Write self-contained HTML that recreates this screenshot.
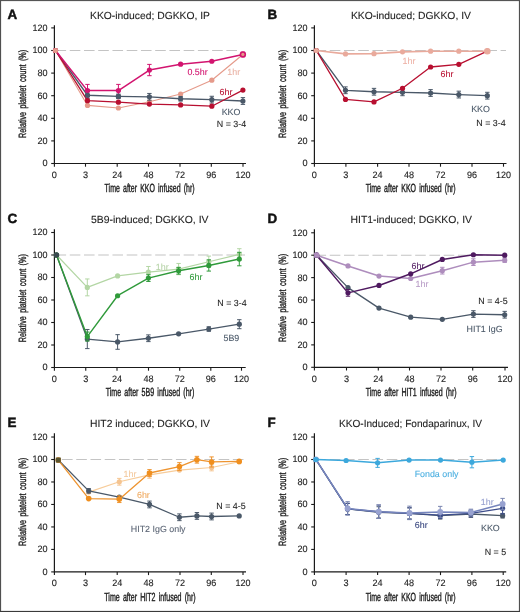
<!DOCTYPE html>
<html><head><meta charset="utf-8"><style>
html,body{margin:0;padding:0;background:#fff;}
body{width:520px;height:612px;overflow:hidden;}
svg{display:block;filter:blur(0.25px);font-family:"Liberation Sans", sans-serif;font-variant-ligatures:none;font-feature-settings:"liga" 0;text-rendering:geometricPrecision;}
</style></head><body>
<svg width="520" height="612" viewBox="0 0 520 612">
<rect x="0" y="0" width="520" height="612" fill="#fff"/>
<text x="7.60" y="18.60" font-size="13.4" fill="#111" text-anchor="start" font-weight="bold" stroke="#111" stroke-width="0.45">A</text>
<text x="150.00" y="19.20" font-size="10.3" fill="#222" text-anchor="middle" font-weight="normal" textLength="120" lengthAdjust="spacingAndGlyphs" stroke="#222" stroke-width="0.1">KKO-induced; DGKKO, IP</text>
<line x1="55.50" y1="50.50" x2="238.00" y2="50.50" stroke="#c4c4c4" stroke-width="1.1" stroke-dasharray="10.6,3.64"/>
<path d="M54.40 25.20 V163.50 H246.00" fill="none" stroke="#1a1a1a" stroke-width="1.2"/>
<line x1="51.20" y1="163.50" x2="54.40" y2="163.50" stroke="#1a1a1a" stroke-width="1.1"/>
<text x="47.50" y="166.40" font-size="9.4" fill="#222" text-anchor="end" font-weight="normal" textLength="5.1" lengthAdjust="spacingAndGlyphs" stroke="#222" stroke-width="0.12">0</text>
<line x1="51.20" y1="140.90" x2="54.40" y2="140.90" stroke="#1a1a1a" stroke-width="1.1"/>
<text x="47.50" y="143.80" font-size="9.4" fill="#222" text-anchor="end" font-weight="normal" textLength="10.1" lengthAdjust="spacingAndGlyphs" stroke="#222" stroke-width="0.12">20</text>
<line x1="51.20" y1="118.30" x2="54.40" y2="118.30" stroke="#1a1a1a" stroke-width="1.1"/>
<text x="47.50" y="121.20" font-size="9.4" fill="#222" text-anchor="end" font-weight="normal" textLength="10.1" lengthAdjust="spacingAndGlyphs" stroke="#222" stroke-width="0.12">40</text>
<line x1="51.20" y1="95.70" x2="54.40" y2="95.70" stroke="#1a1a1a" stroke-width="1.1"/>
<text x="47.50" y="98.60" font-size="9.4" fill="#222" text-anchor="end" font-weight="normal" textLength="10.1" lengthAdjust="spacingAndGlyphs" stroke="#222" stroke-width="0.12">60</text>
<line x1="51.20" y1="73.10" x2="54.40" y2="73.10" stroke="#1a1a1a" stroke-width="1.1"/>
<text x="47.50" y="76.00" font-size="9.4" fill="#222" text-anchor="end" font-weight="normal" textLength="10.1" lengthAdjust="spacingAndGlyphs" stroke="#222" stroke-width="0.12">80</text>
<line x1="51.20" y1="50.50" x2="54.40" y2="50.50" stroke="#1a1a1a" stroke-width="1.1"/>
<text x="47.50" y="53.40" font-size="9.4" fill="#222" text-anchor="end" font-weight="normal" textLength="15" lengthAdjust="spacingAndGlyphs" stroke="#222" stroke-width="0.12">100</text>
<line x1="51.20" y1="27.90" x2="54.40" y2="27.90" stroke="#1a1a1a" stroke-width="1.1"/>
<text x="47.50" y="30.80" font-size="9.4" fill="#222" text-anchor="end" font-weight="normal" textLength="15" lengthAdjust="spacingAndGlyphs" stroke="#222" stroke-width="0.12">120</text>
<line x1="54.40" y1="163.50" x2="54.40" y2="166.70" stroke="#1a1a1a" stroke-width="1.1"/>
<text x="54.40" y="178.00" font-size="9.4" fill="#222" text-anchor="middle" font-weight="normal" textLength="5.1" lengthAdjust="spacingAndGlyphs" stroke="#222" stroke-width="0.12">0</text>
<line x1="85.50" y1="163.50" x2="85.50" y2="166.70" stroke="#1a1a1a" stroke-width="1.1"/>
<text x="85.50" y="178.00" font-size="9.4" fill="#222" text-anchor="middle" font-weight="normal" textLength="5.1" lengthAdjust="spacingAndGlyphs" stroke="#222" stroke-width="0.12">3</text>
<line x1="117.20" y1="163.50" x2="117.20" y2="166.70" stroke="#1a1a1a" stroke-width="1.1"/>
<text x="117.20" y="178.00" font-size="9.4" fill="#222" text-anchor="middle" font-weight="normal" textLength="10.1" lengthAdjust="spacingAndGlyphs" stroke="#222" stroke-width="0.12">24</text>
<line x1="148.50" y1="163.50" x2="148.50" y2="166.70" stroke="#1a1a1a" stroke-width="1.1"/>
<text x="148.50" y="178.00" font-size="9.4" fill="#222" text-anchor="middle" font-weight="normal" textLength="10.1" lengthAdjust="spacingAndGlyphs" stroke="#222" stroke-width="0.12">48</text>
<line x1="180.00" y1="163.50" x2="180.00" y2="166.70" stroke="#1a1a1a" stroke-width="1.1"/>
<text x="180.00" y="178.00" font-size="9.4" fill="#222" text-anchor="middle" font-weight="normal" textLength="10.1" lengthAdjust="spacingAndGlyphs" stroke="#222" stroke-width="0.12">72</text>
<line x1="211.30" y1="163.50" x2="211.30" y2="166.70" stroke="#1a1a1a" stroke-width="1.1"/>
<text x="211.30" y="178.00" font-size="9.4" fill="#222" text-anchor="middle" font-weight="normal" textLength="10.1" lengthAdjust="spacingAndGlyphs" stroke="#222" stroke-width="0.12">96</text>
<line x1="243.00" y1="163.50" x2="243.00" y2="166.70" stroke="#1a1a1a" stroke-width="1.1"/>
<text x="243.00" y="178.00" font-size="9.4" fill="#222" text-anchor="middle" font-weight="normal" textLength="15" lengthAdjust="spacingAndGlyphs" stroke="#222" stroke-width="0.12">120</text>
<text x="149.60" y="192.30" font-size="11.8" fill="#1a1a1a" text-anchor="middle" font-weight="normal" textLength="90" lengthAdjust="spacingAndGlyphs" stroke="#1a1a1a" stroke-width="0.4" word-spacing="2">Time after KKO infused (hr)</text>
<text transform="translate(26.10,93.90) rotate(-90)" x="0" y="0" font-size="10.5" fill="#1a1a1a" text-anchor="middle" textLength="88" lengthAdjust="spacingAndGlyphs" stroke="#1a1a1a" stroke-width="0.35" word-spacing="2">Relative platelet count (%)</text>
<path d="M55.50 50.50 L87.50 105.42 L118.40 108.02 L149.40 101.80 L180.60 94.01 L211.80 80.22 L242.90 54.46" fill="none" stroke="#e59a8a" stroke-width="1.1" stroke-linejoin="round"/>
<circle cx="55.50" cy="50.50" r="2.6" fill="#e59a8a"/>
<circle cx="87.50" cy="105.42" r="2.6" fill="#e59a8a"/>
<circle cx="118.40" cy="108.02" r="2.6" fill="#e59a8a"/>
<circle cx="149.40" cy="101.80" r="2.6" fill="#e59a8a"/>
<circle cx="180.60" cy="94.01" r="2.6" fill="#e59a8a"/>
<circle cx="211.80" cy="80.22" r="2.6" fill="#e59a8a"/>
<circle cx="242.90" cy="54.46" r="2.6" fill="#e59a8a"/>
<path d="M55.50 50.50 L87.50 95.25 L118.40 96.38 L149.40 96.83 L180.60 98.75 L211.80 99.66 L242.90 101.01" fill="none" stroke="#4a5868" stroke-width="1.3" stroke-linejoin="round"/>
<path d="M87.50 91.86 V98.64 M85.30 91.86 H89.70 M85.30 98.64 H89.70" stroke="#4a5868" stroke-width="1" fill="none"/>
<path d="M118.40 94.12 V98.64 M116.20 94.12 H120.60 M116.20 98.64 H120.60" stroke="#4a5868" stroke-width="1" fill="none"/>
<path d="M149.40 93.44 V100.22 M147.20 93.44 H151.60 M147.20 100.22 H151.60" stroke="#4a5868" stroke-width="1" fill="none"/>
<path d="M180.60 96.49 V101.01 M178.40 96.49 H182.80 M178.40 101.01 H182.80" stroke="#4a5868" stroke-width="1" fill="none"/>
<path d="M211.80 96.27 V103.05 M209.60 96.27 H214.00 M209.60 103.05 H214.00" stroke="#4a5868" stroke-width="1" fill="none"/>
<path d="M242.90 97.62 V104.40 M240.70 97.62 H245.10 M240.70 104.40 H245.10" stroke="#4a5868" stroke-width="1" fill="none"/>
<circle cx="55.50" cy="50.50" r="2.6" fill="#4a5868"/>
<circle cx="87.50" cy="95.25" r="2.6" fill="#4a5868"/>
<circle cx="118.40" cy="96.38" r="2.6" fill="#4a5868"/>
<circle cx="149.40" cy="96.83" r="2.6" fill="#4a5868"/>
<circle cx="180.60" cy="98.75" r="2.6" fill="#4a5868"/>
<circle cx="211.80" cy="99.66" r="2.6" fill="#4a5868"/>
<circle cx="242.90" cy="101.01" r="2.6" fill="#4a5868"/>
<path d="M55.50 50.50 L87.50 100.67 L118.40 102.14 L149.40 104.06 L180.60 104.97 L211.80 106.21 L242.90 90.05" fill="none" stroke="#b80f30" stroke-width="1.3" stroke-linejoin="round"/>
<circle cx="55.50" cy="50.50" r="2.6" fill="#b80f30"/>
<circle cx="87.50" cy="100.67" r="2.6" fill="#b80f30"/>
<circle cx="118.40" cy="102.14" r="2.6" fill="#b80f30"/>
<circle cx="149.40" cy="104.06" r="2.6" fill="#b80f30"/>
<circle cx="180.60" cy="104.97" r="2.6" fill="#b80f30"/>
<circle cx="211.80" cy="106.21" r="2.6" fill="#b80f30"/>
<circle cx="242.90" cy="90.05" r="2.6" fill="#b80f30"/>
<path d="M55.50 50.50 L87.50 90.62 L118.40 90.62 L149.40 70.05 L180.60 64.17 L211.80 61.24 L242.90 54.46" fill="none" stroke="#d2146f" stroke-width="1.5" stroke-linejoin="round"/>
<path d="M87.50 84.40 V96.83 M85.30 84.40 H89.70 M85.30 96.83 H89.70" stroke="#d2146f" stroke-width="1" fill="none"/>
<path d="M118.40 84.40 V96.83 M116.20 84.40 H120.60 M116.20 96.83 H120.60" stroke="#d2146f" stroke-width="1" fill="none"/>
<path d="M149.40 64.40 V75.70 M147.20 64.40 H151.60 M147.20 75.70 H151.60" stroke="#d2146f" stroke-width="1" fill="none"/>
<path d="M242.90 52.20 V56.72 M240.70 52.20 H245.10 M240.70 56.72 H245.10" stroke="#d2146f" stroke-width="1" fill="none"/>
<circle cx="55.50" cy="50.50" r="2.6" fill="#d2146f"/>
<circle cx="87.50" cy="90.62" r="2.6" fill="#d2146f"/>
<circle cx="118.40" cy="90.62" r="2.6" fill="#d2146f"/>
<circle cx="149.40" cy="70.05" r="2.6" fill="#d2146f"/>
<circle cx="180.60" cy="64.17" r="2.6" fill="#d2146f"/>
<circle cx="211.80" cy="61.24" r="2.6" fill="#d2146f"/>
<circle cx="242.90" cy="54.46" r="3.2" fill="#d2146f"/>
<circle cx="55.50" cy="50.50" r="2.6" fill="#e59a8a"/>
<circle cx="242.90" cy="54.46" r="1.6" fill="#e59a8a"/>
<circle cx="87.50" cy="95.25" r="2.6" fill="#4a5868"/>
<circle cx="118.40" cy="96.38" r="2.6" fill="#4a5868"/>
<text x="197.50" y="74.70" font-size="8.9" fill="#d2146f" text-anchor="middle" font-weight="normal" stroke="#d2146f" stroke-width="0.08">0.5hr</text>
<text x="233.70" y="74.70" font-size="8.9" fill="#e9b2a4" text-anchor="middle" font-weight="normal" stroke="#e9b2a4" stroke-width="0.08">1hr</text>
<text x="226.00" y="95.30" font-size="8.9" fill="#b80f30" text-anchor="middle" font-weight="normal" stroke="#b80f30" stroke-width="0.08">6hr</text>
<text x="231.00" y="115.00" font-size="8.9" fill="#4a5868" text-anchor="middle" font-weight="normal" stroke="#4a5868" stroke-width="0.08">KKO</text>
<text x="231.50" y="126.50" font-size="8.9" fill="#222" text-anchor="middle" font-weight="normal" stroke="#222" stroke-width="0.08">N = 3-4</text>
<text x="267.60" y="18.60" font-size="13.4" fill="#111" text-anchor="start" font-weight="bold" stroke="#111" stroke-width="0.45">B</text>
<text x="410.90" y="19.20" font-size="10.3" fill="#222" text-anchor="middle" font-weight="normal" textLength="120" lengthAdjust="spacingAndGlyphs" stroke="#222" stroke-width="0.1">KKO-induced; DGKKO, IV</text>
<line x1="315.50" y1="50.50" x2="506.00" y2="50.50" stroke="#c4c4c4" stroke-width="1.1" stroke-dasharray="10.6,3.64"/>
<path d="M314.40 25.20 V163.50 H506.50" fill="none" stroke="#1a1a1a" stroke-width="1.2"/>
<line x1="311.20" y1="163.50" x2="314.40" y2="163.50" stroke="#1a1a1a" stroke-width="1.1"/>
<text x="307.50" y="166.40" font-size="9.4" fill="#222" text-anchor="end" font-weight="normal" textLength="5.1" lengthAdjust="spacingAndGlyphs" stroke="#222" stroke-width="0.12">0</text>
<line x1="311.20" y1="140.90" x2="314.40" y2="140.90" stroke="#1a1a1a" stroke-width="1.1"/>
<text x="307.50" y="143.80" font-size="9.4" fill="#222" text-anchor="end" font-weight="normal" textLength="10.1" lengthAdjust="spacingAndGlyphs" stroke="#222" stroke-width="0.12">20</text>
<line x1="311.20" y1="118.30" x2="314.40" y2="118.30" stroke="#1a1a1a" stroke-width="1.1"/>
<text x="307.50" y="121.20" font-size="9.4" fill="#222" text-anchor="end" font-weight="normal" textLength="10.1" lengthAdjust="spacingAndGlyphs" stroke="#222" stroke-width="0.12">40</text>
<line x1="311.20" y1="95.70" x2="314.40" y2="95.70" stroke="#1a1a1a" stroke-width="1.1"/>
<text x="307.50" y="98.60" font-size="9.4" fill="#222" text-anchor="end" font-weight="normal" textLength="10.1" lengthAdjust="spacingAndGlyphs" stroke="#222" stroke-width="0.12">60</text>
<line x1="311.20" y1="73.10" x2="314.40" y2="73.10" stroke="#1a1a1a" stroke-width="1.1"/>
<text x="307.50" y="76.00" font-size="9.4" fill="#222" text-anchor="end" font-weight="normal" textLength="10.1" lengthAdjust="spacingAndGlyphs" stroke="#222" stroke-width="0.12">80</text>
<line x1="311.20" y1="50.50" x2="314.40" y2="50.50" stroke="#1a1a1a" stroke-width="1.1"/>
<text x="307.50" y="53.40" font-size="9.4" fill="#222" text-anchor="end" font-weight="normal" textLength="15" lengthAdjust="spacingAndGlyphs" stroke="#222" stroke-width="0.12">100</text>
<line x1="311.20" y1="27.90" x2="314.40" y2="27.90" stroke="#1a1a1a" stroke-width="1.1"/>
<text x="307.50" y="30.80" font-size="9.4" fill="#222" text-anchor="end" font-weight="normal" textLength="15" lengthAdjust="spacingAndGlyphs" stroke="#222" stroke-width="0.12">120</text>
<line x1="314.40" y1="163.50" x2="314.40" y2="166.70" stroke="#1a1a1a" stroke-width="1.1"/>
<text x="314.40" y="178.00" font-size="9.4" fill="#222" text-anchor="middle" font-weight="normal" textLength="5.1" lengthAdjust="spacingAndGlyphs" stroke="#222" stroke-width="0.12">0</text>
<line x1="345.90" y1="163.50" x2="345.90" y2="166.70" stroke="#1a1a1a" stroke-width="1.1"/>
<text x="345.90" y="178.00" font-size="9.4" fill="#222" text-anchor="middle" font-weight="normal" textLength="5.1" lengthAdjust="spacingAndGlyphs" stroke="#222" stroke-width="0.12">3</text>
<line x1="377.60" y1="163.50" x2="377.60" y2="166.70" stroke="#1a1a1a" stroke-width="1.1"/>
<text x="377.60" y="178.00" font-size="9.4" fill="#222" text-anchor="middle" font-weight="normal" textLength="10.1" lengthAdjust="spacingAndGlyphs" stroke="#222" stroke-width="0.12">24</text>
<line x1="409.00" y1="163.50" x2="409.00" y2="166.70" stroke="#1a1a1a" stroke-width="1.1"/>
<text x="409.00" y="178.00" font-size="9.4" fill="#222" text-anchor="middle" font-weight="normal" textLength="10.1" lengthAdjust="spacingAndGlyphs" stroke="#222" stroke-width="0.12">48</text>
<line x1="440.50" y1="163.50" x2="440.50" y2="166.70" stroke="#1a1a1a" stroke-width="1.1"/>
<text x="440.50" y="178.00" font-size="9.4" fill="#222" text-anchor="middle" font-weight="normal" textLength="10.1" lengthAdjust="spacingAndGlyphs" stroke="#222" stroke-width="0.12">72</text>
<line x1="472.00" y1="163.50" x2="472.00" y2="166.70" stroke="#1a1a1a" stroke-width="1.1"/>
<text x="472.00" y="178.00" font-size="9.4" fill="#222" text-anchor="middle" font-weight="normal" textLength="10.1" lengthAdjust="spacingAndGlyphs" stroke="#222" stroke-width="0.12">96</text>
<line x1="503.50" y1="163.50" x2="503.50" y2="166.70" stroke="#1a1a1a" stroke-width="1.1"/>
<text x="503.50" y="178.00" font-size="9.4" fill="#222" text-anchor="middle" font-weight="normal" textLength="15" lengthAdjust="spacingAndGlyphs" stroke="#222" stroke-width="0.12">120</text>
<text x="410.70" y="192.30" font-size="11.8" fill="#1a1a1a" text-anchor="middle" font-weight="normal" textLength="90" lengthAdjust="spacingAndGlyphs" stroke="#1a1a1a" stroke-width="0.4" word-spacing="2">Time after KKO infused (hr)</text>
<text transform="translate(286.10,93.90) rotate(-90)" x="0" y="0" font-size="10.5" fill="#1a1a1a" text-anchor="middle" textLength="88" lengthAdjust="spacingAndGlyphs" stroke="#1a1a1a" stroke-width="0.35" word-spacing="2">Relative platelet count (%)</text>
<path d="M316.30 50.50 L345.50 90.28 L374.00 91.75 L402.50 92.31 L430.60 92.99 L458.80 94.57 L487.30 95.70" fill="none" stroke="#4a5868" stroke-width="1.3" stroke-linejoin="round"/>
<path d="M345.50 86.89 V93.67 M343.30 86.89 H347.70 M343.30 93.67 H347.70" stroke="#4a5868" stroke-width="1" fill="none"/>
<path d="M374.00 88.36 V95.14 M371.80 88.36 H376.20 M371.80 95.14 H376.20" stroke="#4a5868" stroke-width="1" fill="none"/>
<path d="M402.50 88.92 V95.70 M400.30 88.92 H404.70 M400.30 95.70 H404.70" stroke="#4a5868" stroke-width="1" fill="none"/>
<path d="M430.60 89.60 V96.38 M428.40 89.60 H432.80 M428.40 96.38 H432.80" stroke="#4a5868" stroke-width="1" fill="none"/>
<path d="M458.80 91.18 V97.96 M456.60 91.18 H461.00 M456.60 97.96 H461.00" stroke="#4a5868" stroke-width="1" fill="none"/>
<path d="M487.30 92.31 V99.09 M485.10 92.31 H489.50 M485.10 99.09 H489.50" stroke="#4a5868" stroke-width="1" fill="none"/>
<circle cx="316.30" cy="50.50" r="2.6" fill="#4a5868"/>
<circle cx="345.50" cy="90.28" r="2.6" fill="#4a5868"/>
<circle cx="374.00" cy="91.75" r="2.6" fill="#4a5868"/>
<circle cx="402.50" cy="92.31" r="2.6" fill="#4a5868"/>
<circle cx="430.60" cy="92.99" r="2.6" fill="#4a5868"/>
<circle cx="458.80" cy="94.57" r="2.6" fill="#4a5868"/>
<circle cx="487.30" cy="95.70" r="2.6" fill="#4a5868"/>
<path d="M316.30 50.50 L345.50 99.43 L374.00 101.92 L402.50 88.24 L430.60 67.00 L458.80 64.29 L487.30 51.18" fill="none" stroke="#b80f30" stroke-width="1.3" stroke-linejoin="round"/>
<circle cx="316.30" cy="50.50" r="2.6" fill="#b80f30"/>
<circle cx="345.50" cy="99.43" r="2.6" fill="#b80f30"/>
<circle cx="374.00" cy="101.92" r="2.6" fill="#b80f30"/>
<circle cx="402.50" cy="88.24" r="2.6" fill="#b80f30"/>
<circle cx="430.60" cy="67.00" r="2.6" fill="#b80f30"/>
<circle cx="458.80" cy="64.29" r="2.6" fill="#b80f30"/>
<circle cx="487.30" cy="51.18" r="2.6" fill="#b80f30"/>
<path d="M316.30 50.50 L345.50 53.89 L374.00 53.66 L402.50 51.86 L430.60 51.18 L458.80 51.18 L487.30 51.18" fill="none" stroke="#e9aa9c" stroke-width="1.6" stroke-linejoin="round"/>
<circle cx="316.30" cy="50.50" r="2.6" fill="#e9aa9c"/>
<circle cx="345.50" cy="53.89" r="2.6" fill="#e9aa9c"/>
<circle cx="374.00" cy="53.66" r="2.6" fill="#e9aa9c"/>
<circle cx="402.50" cy="51.86" r="2.6" fill="#e9aa9c"/>
<circle cx="430.60" cy="51.18" r="2.6" fill="#e9aa9c"/>
<circle cx="458.80" cy="51.18" r="2.6" fill="#e9aa9c"/>
<circle cx="487.30" cy="51.18" r="3.3" fill="#e9aa9c"/>
<text x="409.00" y="64.30" font-size="8.9" fill="#eeb2a6" text-anchor="middle" font-weight="normal" stroke="#eeb2a6" stroke-width="0.08">1hr</text>
<text x="447.00" y="77.00" font-size="8.9" fill="#b80f30" text-anchor="middle" font-weight="normal" stroke="#b80f30" stroke-width="0.08">6hr</text>
<text x="480.50" y="111.70" font-size="8.9" fill="#4a5868" text-anchor="middle" font-weight="normal" stroke="#4a5868" stroke-width="0.08">KKO</text>
<text x="491.00" y="126.00" font-size="8.9" fill="#222" text-anchor="middle" font-weight="normal" stroke="#222" stroke-width="0.08">N = 3-4</text>
<text x="7.60" y="222.60" font-size="13.4" fill="#111" text-anchor="start" font-weight="bold" stroke="#111" stroke-width="0.45">C</text>
<text x="149.70" y="223.20" font-size="10.3" fill="#222" text-anchor="middle" font-weight="normal" textLength="117.6" lengthAdjust="spacingAndGlyphs" stroke="#222" stroke-width="0.1">5B9-induced; DGKKO, IV</text>
<line x1="55.50" y1="255.00" x2="245.00" y2="255.00" stroke="#c4c4c4" stroke-width="1.1" stroke-dasharray="10.6,3.64"/>
<path d="M54.40 229.20 V367.50 H245.70" fill="none" stroke="#1a1a1a" stroke-width="1.2"/>
<line x1="51.20" y1="367.50" x2="54.40" y2="367.50" stroke="#1a1a1a" stroke-width="1.1"/>
<text x="47.50" y="370.40" font-size="9.4" fill="#222" text-anchor="end" font-weight="normal" textLength="5.1" lengthAdjust="spacingAndGlyphs" stroke="#222" stroke-width="0.12">0</text>
<line x1="51.20" y1="345.00" x2="54.40" y2="345.00" stroke="#1a1a1a" stroke-width="1.1"/>
<text x="47.50" y="347.90" font-size="9.4" fill="#222" text-anchor="end" font-weight="normal" textLength="10.1" lengthAdjust="spacingAndGlyphs" stroke="#222" stroke-width="0.12">20</text>
<line x1="51.20" y1="322.50" x2="54.40" y2="322.50" stroke="#1a1a1a" stroke-width="1.1"/>
<text x="47.50" y="325.40" font-size="9.4" fill="#222" text-anchor="end" font-weight="normal" textLength="10.1" lengthAdjust="spacingAndGlyphs" stroke="#222" stroke-width="0.12">40</text>
<line x1="51.20" y1="300.00" x2="54.40" y2="300.00" stroke="#1a1a1a" stroke-width="1.1"/>
<text x="47.50" y="302.90" font-size="9.4" fill="#222" text-anchor="end" font-weight="normal" textLength="10.1" lengthAdjust="spacingAndGlyphs" stroke="#222" stroke-width="0.12">60</text>
<line x1="51.20" y1="277.50" x2="54.40" y2="277.50" stroke="#1a1a1a" stroke-width="1.1"/>
<text x="47.50" y="280.40" font-size="9.4" fill="#222" text-anchor="end" font-weight="normal" textLength="10.1" lengthAdjust="spacingAndGlyphs" stroke="#222" stroke-width="0.12">80</text>
<line x1="51.20" y1="255.00" x2="54.40" y2="255.00" stroke="#1a1a1a" stroke-width="1.1"/>
<text x="47.50" y="257.90" font-size="9.4" fill="#222" text-anchor="end" font-weight="normal" textLength="15" lengthAdjust="spacingAndGlyphs" stroke="#222" stroke-width="0.12">100</text>
<line x1="51.20" y1="232.50" x2="54.40" y2="232.50" stroke="#1a1a1a" stroke-width="1.1"/>
<text x="47.50" y="235.40" font-size="9.4" fill="#222" text-anchor="end" font-weight="normal" textLength="15" lengthAdjust="spacingAndGlyphs" stroke="#222" stroke-width="0.12">120</text>
<line x1="54.40" y1="367.50" x2="54.40" y2="370.70" stroke="#1a1a1a" stroke-width="1.1"/>
<text x="54.40" y="382.00" font-size="9.4" fill="#222" text-anchor="middle" font-weight="normal" textLength="5.1" lengthAdjust="spacingAndGlyphs" stroke="#222" stroke-width="0.12">0</text>
<line x1="85.75" y1="367.50" x2="85.75" y2="370.70" stroke="#1a1a1a" stroke-width="1.1"/>
<text x="85.75" y="382.00" font-size="9.4" fill="#222" text-anchor="middle" font-weight="normal" textLength="5.1" lengthAdjust="spacingAndGlyphs" stroke="#222" stroke-width="0.12">3</text>
<line x1="117.00" y1="367.50" x2="117.00" y2="370.70" stroke="#1a1a1a" stroke-width="1.1"/>
<text x="117.00" y="382.00" font-size="9.4" fill="#222" text-anchor="middle" font-weight="normal" textLength="10.1" lengthAdjust="spacingAndGlyphs" stroke="#222" stroke-width="0.12">24</text>
<line x1="148.50" y1="367.50" x2="148.50" y2="370.70" stroke="#1a1a1a" stroke-width="1.1"/>
<text x="148.50" y="382.00" font-size="9.4" fill="#222" text-anchor="middle" font-weight="normal" textLength="10.1" lengthAdjust="spacingAndGlyphs" stroke="#222" stroke-width="0.12">48</text>
<line x1="179.70" y1="367.50" x2="179.70" y2="370.70" stroke="#1a1a1a" stroke-width="1.1"/>
<text x="179.70" y="382.00" font-size="9.4" fill="#222" text-anchor="middle" font-weight="normal" textLength="10.1" lengthAdjust="spacingAndGlyphs" stroke="#222" stroke-width="0.12">72</text>
<line x1="210.80" y1="367.50" x2="210.80" y2="370.70" stroke="#1a1a1a" stroke-width="1.1"/>
<text x="210.80" y="382.00" font-size="9.4" fill="#222" text-anchor="middle" font-weight="normal" textLength="10.1" lengthAdjust="spacingAndGlyphs" stroke="#222" stroke-width="0.12">96</text>
<line x1="241.50" y1="367.50" x2="241.50" y2="370.70" stroke="#1a1a1a" stroke-width="1.1"/>
<text x="241.50" y="382.00" font-size="9.4" fill="#222" text-anchor="middle" font-weight="normal" textLength="15" lengthAdjust="spacingAndGlyphs" stroke="#222" stroke-width="0.12">120</text>
<text x="150.00" y="396.30" font-size="11.8" fill="#1a1a1a" text-anchor="middle" font-weight="normal" textLength="88.6" lengthAdjust="spacingAndGlyphs" stroke="#1a1a1a" stroke-width="0.4" word-spacing="2">Time after 5B9 infused (hr)</text>
<text transform="translate(26.10,298.20) rotate(-90)" x="0" y="0" font-size="10.5" fill="#1a1a1a" text-anchor="middle" textLength="88" lengthAdjust="spacingAndGlyphs" stroke="#1a1a1a" stroke-width="0.35" word-spacing="2">Relative platelet count (%)</text>
<path d="M56.50 255.00 L87.30 287.40 L117.60 275.93 L148.40 272.10 L178.60 269.06 L208.80 261.75 L239.30 254.32" fill="none" stroke="#b3d6a4" stroke-width="1.2" stroke-linejoin="round"/>
<path d="M87.30 278.96 V295.84 M85.10 278.96 H89.50 M85.10 295.84 H89.50" stroke="#b3d6a4" stroke-width="1" fill="none"/>
<path d="M148.40 266.48 V277.73 M146.20 266.48 H150.60 M146.20 277.73 H150.60" stroke="#b3d6a4" stroke-width="1" fill="none"/>
<path d="M178.60 263.44 V274.69 M176.40 263.44 H180.80 M176.40 274.69 H180.80" stroke="#b3d6a4" stroke-width="1" fill="none"/>
<path d="M208.80 256.12 V267.38 M206.60 256.12 H211.00 M206.60 267.38 H211.00" stroke="#b3d6a4" stroke-width="1" fill="none"/>
<path d="M239.30 248.70 V259.95 M237.10 248.70 H241.50 M237.10 259.95 H241.50" stroke="#b3d6a4" stroke-width="1" fill="none"/>
<circle cx="56.50" cy="255.00" r="2.6" fill="#b3d6a4"/>
<circle cx="87.30" cy="287.40" r="2.6" fill="#b3d6a4"/>
<circle cx="117.60" cy="275.93" r="2.6" fill="#b3d6a4"/>
<circle cx="148.40" cy="272.10" r="2.6" fill="#b3d6a4"/>
<circle cx="178.60" cy="269.06" r="2.6" fill="#b3d6a4"/>
<circle cx="208.80" cy="261.75" r="2.6" fill="#b3d6a4"/>
<circle cx="239.30" cy="254.32" r="2.6" fill="#b3d6a4"/>
<path d="M56.50 255.00 L87.30 339.04 L117.60 341.96 L148.40 338.25 L178.60 333.86 L208.80 329.02 L239.30 324.19" fill="none" stroke="#4a5868" stroke-width="1.3" stroke-linejoin="round"/>
<path d="M87.30 329.48 V348.60 M85.10 329.48 H89.50 M85.10 348.60 H89.50" stroke="#4a5868" stroke-width="1" fill="none"/>
<path d="M117.60 334.65 V349.27 M115.40 334.65 H119.80 M115.40 349.27 H119.80" stroke="#4a5868" stroke-width="1" fill="none"/>
<path d="M148.40 334.88 V341.62 M146.20 334.88 H150.60 M146.20 341.62 H150.60" stroke="#4a5868" stroke-width="1" fill="none"/>
<path d="M208.80 326.77 V331.27 M206.60 326.77 H211.00 M206.60 331.27 H211.00" stroke="#4a5868" stroke-width="1" fill="none"/>
<path d="M239.30 319.69 V328.69 M237.10 319.69 H241.50 M237.10 328.69 H241.50" stroke="#4a5868" stroke-width="1" fill="none"/>
<circle cx="56.50" cy="255.00" r="2.6" fill="#4a5868"/>
<circle cx="87.30" cy="339.04" r="2.6" fill="#4a5868"/>
<circle cx="117.60" cy="341.96" r="2.6" fill="#4a5868"/>
<circle cx="148.40" cy="338.25" r="2.6" fill="#4a5868"/>
<circle cx="178.60" cy="333.86" r="2.6" fill="#4a5868"/>
<circle cx="208.80" cy="329.02" r="2.6" fill="#4a5868"/>
<circle cx="239.30" cy="324.19" r="2.6" fill="#4a5868"/>
<path d="M56.50 255.00 L87.30 336.56 L117.60 295.73 L148.40 278.06 L178.60 270.75 L208.80 265.46 L239.30 259.05" fill="none" stroke="#2f9a3a" stroke-width="1.4" stroke-linejoin="round"/>
<path d="M87.30 332.06 V341.06 M85.10 332.06 H89.50 M85.10 341.06 H89.50" stroke="#2f9a3a" stroke-width="1" fill="none"/>
<path d="M148.40 274.69 V281.44 M146.20 274.69 H150.60 M146.20 281.44 H150.60" stroke="#2f9a3a" stroke-width="1" fill="none"/>
<path d="M178.60 267.38 V274.12 M176.40 267.38 H180.80 M176.40 274.12 H180.80" stroke="#2f9a3a" stroke-width="1" fill="none"/>
<path d="M208.80 259.84 V271.09 M206.60 259.84 H211.00 M206.60 271.09 H211.00" stroke="#2f9a3a" stroke-width="1" fill="none"/>
<path d="M239.30 252.30 V265.80 M237.10 252.30 H241.50 M237.10 265.80 H241.50" stroke="#2f9a3a" stroke-width="1" fill="none"/>
<circle cx="56.50" cy="255.00" r="2.6" fill="#2f9a3a"/>
<circle cx="87.30" cy="336.56" r="2.6" fill="#2f9a3a"/>
<circle cx="117.60" cy="295.73" r="2.6" fill="#2f9a3a"/>
<circle cx="148.40" cy="278.06" r="2.6" fill="#2f9a3a"/>
<circle cx="178.60" cy="270.75" r="2.6" fill="#2f9a3a"/>
<circle cx="208.80" cy="265.46" r="2.6" fill="#2f9a3a"/>
<circle cx="239.30" cy="259.05" r="2.6" fill="#2f9a3a"/>
<circle cx="56.50" cy="255.00" r="2.7" fill="#3a4a50"/>
<text x="162.20" y="269.90" font-size="8.9" fill="#b8d4aa" text-anchor="middle" font-weight="normal" stroke="#b8d4aa" stroke-width="0.08">1hr</text>
<text x="196.00" y="280.00" font-size="8.9" fill="#2f9a3a" text-anchor="middle" font-weight="normal" stroke="#2f9a3a" stroke-width="0.08">6hr</text>
<text x="232.00" y="305.80" font-size="8.9" fill="#222" text-anchor="middle" font-weight="normal" stroke="#222" stroke-width="0.08">N = 3-4</text>
<text x="231.40" y="341.40" font-size="8.9" fill="#4a5868" text-anchor="middle" font-weight="normal" stroke="#4a5868" stroke-width="0.08">5B9</text>
<text x="267.60" y="222.60" font-size="13.4" fill="#111" text-anchor="start" font-weight="bold" stroke="#111" stroke-width="0.45">D</text>
<text x="411.25" y="223.20" font-size="10.3" fill="#222" text-anchor="middle" font-weight="normal" textLength="121.5" lengthAdjust="spacingAndGlyphs" stroke="#222" stroke-width="0.1">HIT1-induced; DGKKO, IV</text>
<line x1="315.50" y1="255.20" x2="506.00" y2="255.20" stroke="#c4c4c4" stroke-width="1.1" stroke-dasharray="10.6,3.64"/>
<path d="M314.40 229.20 V367.30 H508.00" fill="none" stroke="#1a1a1a" stroke-width="1.2"/>
<line x1="311.20" y1="367.30" x2="314.40" y2="367.30" stroke="#1a1a1a" stroke-width="1.1"/>
<text x="307.50" y="370.20" font-size="9.4" fill="#222" text-anchor="end" font-weight="normal" textLength="5.1" lengthAdjust="spacingAndGlyphs" stroke="#222" stroke-width="0.12">0</text>
<line x1="311.20" y1="344.88" x2="314.40" y2="344.88" stroke="#1a1a1a" stroke-width="1.1"/>
<text x="307.50" y="347.78" font-size="9.4" fill="#222" text-anchor="end" font-weight="normal" textLength="10.1" lengthAdjust="spacingAndGlyphs" stroke="#222" stroke-width="0.12">20</text>
<line x1="311.20" y1="322.46" x2="314.40" y2="322.46" stroke="#1a1a1a" stroke-width="1.1"/>
<text x="307.50" y="325.36" font-size="9.4" fill="#222" text-anchor="end" font-weight="normal" textLength="10.1" lengthAdjust="spacingAndGlyphs" stroke="#222" stroke-width="0.12">40</text>
<line x1="311.20" y1="300.04" x2="314.40" y2="300.04" stroke="#1a1a1a" stroke-width="1.1"/>
<text x="307.50" y="302.94" font-size="9.4" fill="#222" text-anchor="end" font-weight="normal" textLength="10.1" lengthAdjust="spacingAndGlyphs" stroke="#222" stroke-width="0.12">60</text>
<line x1="311.20" y1="277.62" x2="314.40" y2="277.62" stroke="#1a1a1a" stroke-width="1.1"/>
<text x="307.50" y="280.52" font-size="9.4" fill="#222" text-anchor="end" font-weight="normal" textLength="10.1" lengthAdjust="spacingAndGlyphs" stroke="#222" stroke-width="0.12">80</text>
<line x1="311.20" y1="255.20" x2="314.40" y2="255.20" stroke="#1a1a1a" stroke-width="1.1"/>
<text x="307.50" y="258.10" font-size="9.4" fill="#222" text-anchor="end" font-weight="normal" textLength="15" lengthAdjust="spacingAndGlyphs" stroke="#222" stroke-width="0.12">100</text>
<line x1="311.20" y1="232.78" x2="314.40" y2="232.78" stroke="#1a1a1a" stroke-width="1.1"/>
<text x="307.50" y="235.68" font-size="9.4" fill="#222" text-anchor="end" font-weight="normal" textLength="15" lengthAdjust="spacingAndGlyphs" stroke="#222" stroke-width="0.12">120</text>
<line x1="314.40" y1="367.30" x2="314.40" y2="370.50" stroke="#1a1a1a" stroke-width="1.1"/>
<text x="314.40" y="381.80" font-size="9.4" fill="#222" text-anchor="middle" font-weight="normal" textLength="5.1" lengthAdjust="spacingAndGlyphs" stroke="#222" stroke-width="0.12">0</text>
<line x1="346.50" y1="367.30" x2="346.50" y2="370.50" stroke="#1a1a1a" stroke-width="1.1"/>
<text x="346.50" y="381.80" font-size="9.4" fill="#222" text-anchor="middle" font-weight="normal" textLength="5.1" lengthAdjust="spacingAndGlyphs" stroke="#222" stroke-width="0.12">3</text>
<line x1="378.30" y1="367.30" x2="378.30" y2="370.50" stroke="#1a1a1a" stroke-width="1.1"/>
<text x="378.30" y="381.80" font-size="9.4" fill="#222" text-anchor="middle" font-weight="normal" textLength="10.1" lengthAdjust="spacingAndGlyphs" stroke="#222" stroke-width="0.12">24</text>
<line x1="409.50" y1="367.30" x2="409.50" y2="370.50" stroke="#1a1a1a" stroke-width="1.1"/>
<text x="409.50" y="381.80" font-size="9.4" fill="#222" text-anchor="middle" font-weight="normal" textLength="10.1" lengthAdjust="spacingAndGlyphs" stroke="#222" stroke-width="0.12">48</text>
<line x1="441.00" y1="367.30" x2="441.00" y2="370.50" stroke="#1a1a1a" stroke-width="1.1"/>
<text x="441.00" y="381.80" font-size="9.4" fill="#222" text-anchor="middle" font-weight="normal" textLength="10.1" lengthAdjust="spacingAndGlyphs" stroke="#222" stroke-width="0.12">72</text>
<line x1="472.70" y1="367.30" x2="472.70" y2="370.50" stroke="#1a1a1a" stroke-width="1.1"/>
<text x="472.70" y="381.80" font-size="9.4" fill="#222" text-anchor="middle" font-weight="normal" textLength="10.1" lengthAdjust="spacingAndGlyphs" stroke="#222" stroke-width="0.12">96</text>
<line x1="505.00" y1="367.30" x2="505.00" y2="370.50" stroke="#1a1a1a" stroke-width="1.1"/>
<text x="505.00" y="381.80" font-size="9.4" fill="#222" text-anchor="middle" font-weight="normal" textLength="15" lengthAdjust="spacingAndGlyphs" stroke="#222" stroke-width="0.12">120</text>
<text x="411.20" y="396.10" font-size="11.8" fill="#1a1a1a" text-anchor="middle" font-weight="normal" textLength="91" lengthAdjust="spacingAndGlyphs" stroke="#1a1a1a" stroke-width="0.4" word-spacing="2">Time after HIT1 infused (hr)</text>
<text transform="translate(286.10,297.90) rotate(-90)" x="0" y="0" font-size="10.5" fill="#1a1a1a" text-anchor="middle" textLength="88" lengthAdjust="spacingAndGlyphs" stroke="#1a1a1a" stroke-width="0.35" word-spacing="2">Relative platelet count (%)</text>
<path d="M316.60 255.20 L348.00 287.60 L379.00 308.11 L410.70 317.19 L442.30 319.32 L473.40 314.05 L504.70 314.73" fill="none" stroke="#4a5868" stroke-width="1.3" stroke-linejoin="round"/>
<path d="M473.40 310.69 V317.42 M471.20 310.69 H475.60 M471.20 317.42 H475.60" stroke="#4a5868" stroke-width="1" fill="none"/>
<path d="M504.70 311.36 V318.09 M502.50 311.36 H506.90 M502.50 318.09 H506.90" stroke="#4a5868" stroke-width="1" fill="none"/>
<circle cx="316.60" cy="255.20" r="2.6" fill="#4a5868"/>
<circle cx="348.00" cy="287.60" r="2.6" fill="#4a5868"/>
<circle cx="379.00" cy="308.11" r="2.6" fill="#4a5868"/>
<circle cx="410.70" cy="317.19" r="2.6" fill="#4a5868"/>
<circle cx="442.30" cy="319.32" r="2.6" fill="#4a5868"/>
<circle cx="473.40" cy="314.05" r="2.6" fill="#4a5868"/>
<circle cx="504.70" cy="314.73" r="2.6" fill="#4a5868"/>
<path d="M316.60 255.20 L348.00 265.96 L379.00 276.05 L410.70 278.52 L442.30 270.67 L473.40 262.15 L504.70 260.13" fill="none" stroke="#ae8dbd" stroke-width="1.5" stroke-linejoin="round"/>
<path d="M442.30 267.31 V274.03 M440.10 267.31 H444.50 M440.10 274.03 H444.50" stroke="#ae8dbd" stroke-width="1" fill="none"/>
<path d="M473.40 258.79 V265.51 M471.20 258.79 H475.60 M471.20 265.51 H475.60" stroke="#ae8dbd" stroke-width="1" fill="none"/>
<path d="M504.70 257.89 V262.37 M502.50 257.89 H506.90 M502.50 262.37 H506.90" stroke="#ae8dbd" stroke-width="1" fill="none"/>
<circle cx="316.60" cy="255.20" r="2.6" fill="#ae8dbd"/>
<circle cx="348.00" cy="265.96" r="2.6" fill="#ae8dbd"/>
<circle cx="379.00" cy="276.05" r="2.6" fill="#ae8dbd"/>
<circle cx="410.70" cy="278.52" r="2.6" fill="#ae8dbd"/>
<circle cx="442.30" cy="270.67" r="2.6" fill="#ae8dbd"/>
<circle cx="473.40" cy="262.15" r="2.6" fill="#ae8dbd"/>
<circle cx="504.70" cy="260.13" r="2.6" fill="#ae8dbd"/>
<path d="M316.60 255.20 L348.00 292.87 L379.00 285.47 L410.70 273.81 L442.30 259.46 L473.40 254.75 L504.70 255.20" fill="none" stroke="#4f1a60" stroke-width="1.5" stroke-linejoin="round"/>
<path d="M348.00 289.50 V296.23 M345.80 289.50 H350.20 M345.80 296.23 H350.20" stroke="#4f1a60" stroke-width="1" fill="none"/>
<circle cx="316.60" cy="255.20" r="2.6" fill="#4f1a60"/>
<circle cx="348.00" cy="292.87" r="2.6" fill="#4f1a60"/>
<circle cx="379.00" cy="285.47" r="2.6" fill="#4f1a60"/>
<circle cx="410.70" cy="273.81" r="2.6" fill="#4f1a60"/>
<circle cx="442.30" cy="259.46" r="2.6" fill="#4f1a60"/>
<circle cx="473.40" cy="254.75" r="2.6" fill="#4f1a60"/>
<circle cx="504.70" cy="255.20" r="2.6" fill="#4f1a60"/>
<rect x="314.10" y="252.70" width="5" height="5" fill="#ae8dbd"/>
<text x="418.00" y="268.80" font-size="8.9" fill="#4f1a60" text-anchor="middle" font-weight="normal" stroke="#4f1a60" stroke-width="0.08">6hr</text>
<text x="422.00" y="287.40" font-size="8.9" fill="#b89cc6" text-anchor="middle" font-weight="normal" stroke="#b89cc6" stroke-width="0.08">1hr</text>
<text x="493.00" y="304.30" font-size="8.9" fill="#222" text-anchor="middle" font-weight="normal" stroke="#222" stroke-width="0.08">N = 4-5</text>
<text x="484.60" y="331.90" font-size="8.9" fill="#4a5868" text-anchor="middle" font-weight="normal" stroke="#4a5868" stroke-width="0.08">HIT1 IgG</text>
<text x="7.60" y="426.60" font-size="13.4" fill="#111" text-anchor="start" font-weight="bold" stroke="#111" stroke-width="0.45">E</text>
<text x="150.00" y="427.20" font-size="10.3" fill="#222" text-anchor="middle" font-weight="normal" textLength="120" lengthAdjust="spacingAndGlyphs" stroke="#222" stroke-width="0.1">HIT2 induced; DGKKO, IV</text>
<line x1="62.00" y1="459.50" x2="245.00" y2="459.50" stroke="#c4c4c4" stroke-width="1.1" stroke-dasharray="10.6,3.64"/>
<path d="M54.40 433.20 V571.90 H246.00" fill="none" stroke="#1a1a1a" stroke-width="1.2"/>
<line x1="51.20" y1="571.90" x2="54.40" y2="571.90" stroke="#1a1a1a" stroke-width="1.1"/>
<text x="47.50" y="574.80" font-size="9.4" fill="#222" text-anchor="end" font-weight="normal" textLength="5.1" lengthAdjust="spacingAndGlyphs" stroke="#222" stroke-width="0.12">0</text>
<line x1="51.20" y1="549.42" x2="54.40" y2="549.42" stroke="#1a1a1a" stroke-width="1.1"/>
<text x="47.50" y="552.32" font-size="9.4" fill="#222" text-anchor="end" font-weight="normal" textLength="10.1" lengthAdjust="spacingAndGlyphs" stroke="#222" stroke-width="0.12">20</text>
<line x1="51.20" y1="526.94" x2="54.40" y2="526.94" stroke="#1a1a1a" stroke-width="1.1"/>
<text x="47.50" y="529.84" font-size="9.4" fill="#222" text-anchor="end" font-weight="normal" textLength="10.1" lengthAdjust="spacingAndGlyphs" stroke="#222" stroke-width="0.12">40</text>
<line x1="51.20" y1="504.46" x2="54.40" y2="504.46" stroke="#1a1a1a" stroke-width="1.1"/>
<text x="47.50" y="507.36" font-size="9.4" fill="#222" text-anchor="end" font-weight="normal" textLength="10.1" lengthAdjust="spacingAndGlyphs" stroke="#222" stroke-width="0.12">60</text>
<line x1="51.20" y1="481.98" x2="54.40" y2="481.98" stroke="#1a1a1a" stroke-width="1.1"/>
<text x="47.50" y="484.88" font-size="9.4" fill="#222" text-anchor="end" font-weight="normal" textLength="10.1" lengthAdjust="spacingAndGlyphs" stroke="#222" stroke-width="0.12">80</text>
<line x1="51.20" y1="459.50" x2="54.40" y2="459.50" stroke="#1a1a1a" stroke-width="1.1"/>
<text x="47.50" y="462.40" font-size="9.4" fill="#222" text-anchor="end" font-weight="normal" textLength="15" lengthAdjust="spacingAndGlyphs" stroke="#222" stroke-width="0.12">100</text>
<line x1="51.20" y1="437.02" x2="54.40" y2="437.02" stroke="#1a1a1a" stroke-width="1.1"/>
<text x="47.50" y="439.92" font-size="9.4" fill="#222" text-anchor="end" font-weight="normal" textLength="15" lengthAdjust="spacingAndGlyphs" stroke="#222" stroke-width="0.12">120</text>
<line x1="54.40" y1="571.90" x2="54.40" y2="575.10" stroke="#1a1a1a" stroke-width="1.1"/>
<text x="54.40" y="586.40" font-size="9.4" fill="#222" text-anchor="middle" font-weight="normal" textLength="5.1" lengthAdjust="spacingAndGlyphs" stroke="#222" stroke-width="0.12">0</text>
<line x1="85.50" y1="571.90" x2="85.50" y2="575.10" stroke="#1a1a1a" stroke-width="1.1"/>
<text x="85.50" y="586.40" font-size="9.4" fill="#222" text-anchor="middle" font-weight="normal" textLength="5.1" lengthAdjust="spacingAndGlyphs" stroke="#222" stroke-width="0.12">3</text>
<line x1="117.20" y1="571.90" x2="117.20" y2="575.10" stroke="#1a1a1a" stroke-width="1.1"/>
<text x="117.20" y="586.40" font-size="9.4" fill="#222" text-anchor="middle" font-weight="normal" textLength="10.1" lengthAdjust="spacingAndGlyphs" stroke="#222" stroke-width="0.12">24</text>
<line x1="148.50" y1="571.90" x2="148.50" y2="575.10" stroke="#1a1a1a" stroke-width="1.1"/>
<text x="148.50" y="586.40" font-size="9.4" fill="#222" text-anchor="middle" font-weight="normal" textLength="10.1" lengthAdjust="spacingAndGlyphs" stroke="#222" stroke-width="0.12">48</text>
<line x1="180.00" y1="571.90" x2="180.00" y2="575.10" stroke="#1a1a1a" stroke-width="1.1"/>
<text x="180.00" y="586.40" font-size="9.4" fill="#222" text-anchor="middle" font-weight="normal" textLength="10.1" lengthAdjust="spacingAndGlyphs" stroke="#222" stroke-width="0.12">72</text>
<line x1="211.30" y1="571.90" x2="211.30" y2="575.10" stroke="#1a1a1a" stroke-width="1.1"/>
<text x="211.30" y="586.40" font-size="9.4" fill="#222" text-anchor="middle" font-weight="normal" textLength="10.1" lengthAdjust="spacingAndGlyphs" stroke="#222" stroke-width="0.12">96</text>
<line x1="243.00" y1="571.90" x2="243.00" y2="575.10" stroke="#1a1a1a" stroke-width="1.1"/>
<text x="243.00" y="586.40" font-size="9.4" fill="#222" text-anchor="middle" font-weight="normal" textLength="15" lengthAdjust="spacingAndGlyphs" stroke="#222" stroke-width="0.12">120</text>
<text x="150.00" y="600.70" font-size="11.8" fill="#1a1a1a" text-anchor="middle" font-weight="normal" textLength="91.4" lengthAdjust="spacingAndGlyphs" stroke="#1a1a1a" stroke-width="0.4" word-spacing="2">Time after HIT2 infused (hr)</text>
<text transform="translate(26.10,501.90) rotate(-90)" x="0" y="0" font-size="10.5" fill="#1a1a1a" text-anchor="middle" textLength="88" lengthAdjust="spacingAndGlyphs" stroke="#1a1a1a" stroke-width="0.35" word-spacing="2">Relative platelet count (%)</text>
<path d="M88.70 492.10 L119.30 481.76 L149.50 474.90 L179.40 470.07 L211.60 467.48 L239.20 461.75" fill="none" stroke="#f7cc9a" stroke-width="1.2" stroke-linejoin="round"/>
<path d="M119.30 478.38 V485.13 M117.10 478.38 H121.50 M117.10 485.13 H121.50" stroke="#f5c490" stroke-width="1" fill="none"/>
<path d="M149.50 471.53 V478.27 M147.30 471.53 H151.70 M147.30 478.27 H151.70" stroke="#f5c490" stroke-width="1" fill="none"/>
<path d="M211.60 464.11 V470.85 M209.40 464.11 H213.80 M209.40 470.85 H213.80" stroke="#f5c490" stroke-width="1" fill="none"/>
<circle cx="88.70" cy="492.10" r="2.6" fill="#f5c490"/>
<circle cx="119.30" cy="481.76" r="2.6" fill="#f5c490"/>
<circle cx="149.50" cy="474.90" r="2.6" fill="#f5c490"/>
<circle cx="179.40" cy="470.07" r="2.6" fill="#f5c490"/>
<circle cx="211.60" cy="467.48" r="2.6" fill="#f5c490"/>
<circle cx="239.20" cy="461.75" r="2.6" fill="#f5c490"/>
<path d="M58.30 460.06 L88.70 490.86 L119.30 497.15 L149.50 504.46 L179.40 517.27 L196.90 515.92 L211.60 516.49 L239.20 515.92" fill="none" stroke="#4a5868" stroke-width="1.3" stroke-linejoin="round"/>
<path d="M88.70 488.61 V493.11 M86.50 488.61 H90.90 M86.50 493.11 H90.90" stroke="#4a5868" stroke-width="1" fill="none"/>
<path d="M149.50 501.09 V507.83 M147.30 501.09 H151.70 M147.30 507.83 H151.70" stroke="#4a5868" stroke-width="1" fill="none"/>
<path d="M179.40 513.90 V520.65 M177.20 513.90 H181.60 M177.20 520.65 H181.60" stroke="#4a5868" stroke-width="1" fill="none"/>
<path d="M196.90 512.55 V519.30 M194.70 512.55 H199.10 M194.70 519.30 H199.10" stroke="#4a5868" stroke-width="1" fill="none"/>
<path d="M211.60 513.11 V519.86 M209.40 513.11 H213.80 M209.40 519.86 H213.80" stroke="#4a5868" stroke-width="1" fill="none"/>
<circle cx="58.30" cy="460.06" r="2.6" fill="#4a5868"/>
<circle cx="88.70" cy="490.86" r="2.6" fill="#4a5868"/>
<circle cx="119.30" cy="497.15" r="2.6" fill="#4a5868"/>
<circle cx="149.50" cy="504.46" r="2.6" fill="#4a5868"/>
<circle cx="179.40" cy="517.27" r="2.6" fill="#4a5868"/>
<circle cx="196.90" cy="515.92" r="2.6" fill="#4a5868"/>
<circle cx="211.60" cy="516.49" r="2.6" fill="#4a5868"/>
<circle cx="239.20" cy="515.92" r="2.6" fill="#4a5868"/>
<path d="M58.30 460.06 L88.70 498.62 L119.30 499.18 L149.50 472.99 L179.40 466.58 L196.90 459.72 L211.60 461.97 L239.20 461.41" fill="none" stroke="#ee9430" stroke-width="1.3" stroke-linejoin="round"/>
<path d="M119.30 495.81 V502.55 M117.10 495.81 H121.50 M117.10 502.55 H121.50" stroke="#ee9430" stroke-width="1" fill="none"/>
<path d="M149.50 469.62 V476.36 M147.30 469.62 H151.70 M147.30 476.36 H151.70" stroke="#ee9430" stroke-width="1" fill="none"/>
<path d="M179.40 462.65 V470.52 M177.20 462.65 H181.60 M177.20 470.52 H181.60" stroke="#ee9430" stroke-width="1" fill="none"/>
<path d="M196.90 456.35 V463.10 M194.70 456.35 H199.10 M194.70 463.10 H199.10" stroke="#ee9430" stroke-width="1" fill="none"/>
<path d="M211.60 456.91 V467.03 M209.40 456.91 H213.80 M209.40 467.03 H213.80" stroke="#ee9430" stroke-width="1" fill="none"/>
<circle cx="58.30" cy="460.06" r="2.8" fill="#f08f1e"/>
<circle cx="88.70" cy="498.62" r="2.8" fill="#f08f1e"/>
<circle cx="119.30" cy="499.18" r="2.8" fill="#f08f1e"/>
<circle cx="149.50" cy="472.99" r="2.8" fill="#f08f1e"/>
<circle cx="179.40" cy="466.58" r="2.8" fill="#f08f1e"/>
<circle cx="196.90" cy="459.72" r="2.8" fill="#f08f1e"/>
<circle cx="211.60" cy="461.97" r="2.8" fill="#f08f1e"/>
<circle cx="239.20" cy="461.41" r="2.8" fill="#f08f1e"/>
<rect x="55.80" y="457.56" width="5" height="5" fill="#5a5530"/>
<text x="130.00" y="477.40" font-size="8.9" fill="#f3c89c" text-anchor="middle" font-weight="normal" stroke="#f3c89c" stroke-width="0.08">1hr</text>
<text x="143.40" y="497.90" font-size="8.9" fill="#f0aa60" text-anchor="middle" font-weight="normal" stroke="#f0aa60" stroke-width="0.08">6hr</text>
<text x="231.00" y="508.80" font-size="8.9" fill="#222" text-anchor="middle" font-weight="normal" stroke="#222" stroke-width="0.08">N = 4-5</text>
<text x="158.20" y="531.80" font-size="8.9" fill="#5a6474" text-anchor="middle" font-weight="normal" stroke="#5a6474" stroke-width="0.08">HIT2 IgG only</text>
<text x="267.60" y="426.60" font-size="13.4" fill="#111" text-anchor="start" font-weight="bold" stroke="#111" stroke-width="0.45">F</text>
<text x="410.50" y="427.20" font-size="10.3" fill="#222" text-anchor="middle" font-weight="normal" textLength="143" lengthAdjust="spacingAndGlyphs" stroke="#222" stroke-width="0.1">KKO-Induced; Fondaparinux, IV</text>
<line x1="315.50" y1="459.50" x2="503.00" y2="459.50" stroke="#c4c4c4" stroke-width="1.1" stroke-dasharray="10.6,3.64"/>
<path d="M314.40 433.20 V571.90 H506.20" fill="none" stroke="#1a1a1a" stroke-width="1.2"/>
<line x1="311.20" y1="571.90" x2="314.40" y2="571.90" stroke="#1a1a1a" stroke-width="1.1"/>
<text x="307.50" y="574.80" font-size="9.4" fill="#222" text-anchor="end" font-weight="normal" textLength="5.1" lengthAdjust="spacingAndGlyphs" stroke="#222" stroke-width="0.12">0</text>
<line x1="311.20" y1="549.42" x2="314.40" y2="549.42" stroke="#1a1a1a" stroke-width="1.1"/>
<text x="307.50" y="552.32" font-size="9.4" fill="#222" text-anchor="end" font-weight="normal" textLength="10.1" lengthAdjust="spacingAndGlyphs" stroke="#222" stroke-width="0.12">20</text>
<line x1="311.20" y1="526.94" x2="314.40" y2="526.94" stroke="#1a1a1a" stroke-width="1.1"/>
<text x="307.50" y="529.84" font-size="9.4" fill="#222" text-anchor="end" font-weight="normal" textLength="10.1" lengthAdjust="spacingAndGlyphs" stroke="#222" stroke-width="0.12">40</text>
<line x1="311.20" y1="504.46" x2="314.40" y2="504.46" stroke="#1a1a1a" stroke-width="1.1"/>
<text x="307.50" y="507.36" font-size="9.4" fill="#222" text-anchor="end" font-weight="normal" textLength="10.1" lengthAdjust="spacingAndGlyphs" stroke="#222" stroke-width="0.12">60</text>
<line x1="311.20" y1="481.98" x2="314.40" y2="481.98" stroke="#1a1a1a" stroke-width="1.1"/>
<text x="307.50" y="484.88" font-size="9.4" fill="#222" text-anchor="end" font-weight="normal" textLength="10.1" lengthAdjust="spacingAndGlyphs" stroke="#222" stroke-width="0.12">80</text>
<line x1="311.20" y1="459.50" x2="314.40" y2="459.50" stroke="#1a1a1a" stroke-width="1.1"/>
<text x="307.50" y="462.40" font-size="9.4" fill="#222" text-anchor="end" font-weight="normal" textLength="15" lengthAdjust="spacingAndGlyphs" stroke="#222" stroke-width="0.12">100</text>
<line x1="311.20" y1="437.02" x2="314.40" y2="437.02" stroke="#1a1a1a" stroke-width="1.1"/>
<text x="307.50" y="439.92" font-size="9.4" fill="#222" text-anchor="end" font-weight="normal" textLength="15" lengthAdjust="spacingAndGlyphs" stroke="#222" stroke-width="0.12">120</text>
<line x1="314.40" y1="571.90" x2="314.40" y2="575.10" stroke="#1a1a1a" stroke-width="1.1"/>
<text x="314.40" y="586.40" font-size="9.4" fill="#222" text-anchor="middle" font-weight="normal" textLength="5.1" lengthAdjust="spacingAndGlyphs" stroke="#222" stroke-width="0.12">0</text>
<line x1="346.10" y1="571.90" x2="346.10" y2="575.10" stroke="#1a1a1a" stroke-width="1.1"/>
<text x="346.10" y="586.40" font-size="9.4" fill="#222" text-anchor="middle" font-weight="normal" textLength="5.1" lengthAdjust="spacingAndGlyphs" stroke="#222" stroke-width="0.12">3</text>
<line x1="377.60" y1="571.90" x2="377.60" y2="575.10" stroke="#1a1a1a" stroke-width="1.1"/>
<text x="377.60" y="586.40" font-size="9.4" fill="#222" text-anchor="middle" font-weight="normal" textLength="10.1" lengthAdjust="spacingAndGlyphs" stroke="#222" stroke-width="0.12">24</text>
<line x1="409.10" y1="571.90" x2="409.10" y2="575.10" stroke="#1a1a1a" stroke-width="1.1"/>
<text x="409.10" y="586.40" font-size="9.4" fill="#222" text-anchor="middle" font-weight="normal" textLength="10.1" lengthAdjust="spacingAndGlyphs" stroke="#222" stroke-width="0.12">48</text>
<line x1="440.50" y1="571.90" x2="440.50" y2="575.10" stroke="#1a1a1a" stroke-width="1.1"/>
<text x="440.50" y="586.40" font-size="9.4" fill="#222" text-anchor="middle" font-weight="normal" textLength="10.1" lengthAdjust="spacingAndGlyphs" stroke="#222" stroke-width="0.12">72</text>
<line x1="471.90" y1="571.90" x2="471.90" y2="575.10" stroke="#1a1a1a" stroke-width="1.1"/>
<text x="471.90" y="586.40" font-size="9.4" fill="#222" text-anchor="middle" font-weight="normal" textLength="10.1" lengthAdjust="spacingAndGlyphs" stroke="#222" stroke-width="0.12">96</text>
<line x1="503.20" y1="571.90" x2="503.20" y2="575.10" stroke="#1a1a1a" stroke-width="1.1"/>
<text x="503.20" y="586.40" font-size="9.4" fill="#222" text-anchor="middle" font-weight="normal" textLength="15" lengthAdjust="spacingAndGlyphs" stroke="#222" stroke-width="0.12">120</text>
<text x="410.70" y="600.70" font-size="11.8" fill="#1a1a1a" text-anchor="middle" font-weight="normal" textLength="90" lengthAdjust="spacingAndGlyphs" stroke="#1a1a1a" stroke-width="0.4" word-spacing="2">Time after KKO infused (hr)</text>
<text transform="translate(286.10,501.90) rotate(-90)" x="0" y="0" font-size="10.5" fill="#1a1a1a" text-anchor="middle" textLength="88" lengthAdjust="spacingAndGlyphs" stroke="#1a1a1a" stroke-width="0.35" word-spacing="2">Relative platelet count (%)</text>
<path d="M315.90 459.50 L347.60 508.96 L378.70 512.33 L409.50 513.45 L440.20 515.70 L470.90 514.01 L502.60 515.70" fill="none" stroke="#4a5868" stroke-width="1.3" stroke-linejoin="round"/>
<path d="M347.60 503.34 V514.58 M345.40 503.34 H349.80 M345.40 514.58 H349.80" stroke="#4a5868" stroke-width="1" fill="none"/>
<path d="M378.70 506.71 V517.95 M376.50 506.71 H380.90 M376.50 517.95 H380.90" stroke="#4a5868" stroke-width="1" fill="none"/>
<path d="M409.50 507.83 V519.07 M407.30 507.83 H411.70 M407.30 519.07 H411.70" stroke="#4a5868" stroke-width="1" fill="none"/>
<path d="M440.20 512.33 V519.07 M438.00 512.33 H442.40 M438.00 519.07 H442.40" stroke="#4a5868" stroke-width="1" fill="none"/>
<path d="M470.90 510.64 V517.39 M468.70 510.64 H473.10 M468.70 517.39 H473.10" stroke="#4a5868" stroke-width="1" fill="none"/>
<path d="M502.60 513.45 V517.95 M500.40 513.45 H504.80 M500.40 517.95 H504.80" stroke="#4a5868" stroke-width="1" fill="none"/>
<circle cx="315.90" cy="459.50" r="2.6" fill="#4a5868"/>
<circle cx="347.60" cy="508.96" r="2.6" fill="#4a5868"/>
<circle cx="378.70" cy="512.33" r="2.6" fill="#4a5868"/>
<circle cx="409.50" cy="513.45" r="2.6" fill="#4a5868"/>
<circle cx="440.20" cy="515.70" r="2.6" fill="#4a5868"/>
<circle cx="470.90" cy="514.01" r="2.6" fill="#4a5868"/>
<circle cx="502.60" cy="515.70" r="2.6" fill="#4a5868"/>
<path d="M315.90 459.50 L347.60 508.96 L378.70 511.77 L409.50 513.45 L440.20 515.14 L470.90 513.45 L502.60 508.28" fill="none" stroke="#3e4e8c" stroke-width="1.3" stroke-linejoin="round"/>
<path d="M347.60 503.34 V514.58 M345.40 503.34 H349.80 M345.40 514.58 H349.80" stroke="#3e4e8c" stroke-width="1" fill="none"/>
<path d="M378.70 505.02 V518.51 M376.50 505.02 H380.90 M376.50 518.51 H380.90" stroke="#3e4e8c" stroke-width="1" fill="none"/>
<path d="M409.50 507.83 V519.07 M407.30 507.83 H411.70 M407.30 519.07 H411.70" stroke="#3e4e8c" stroke-width="1" fill="none"/>
<path d="M440.20 511.77 V518.51 M438.00 511.77 H442.40 M438.00 518.51 H442.40" stroke="#3e4e8c" stroke-width="1" fill="none"/>
<path d="M470.90 510.08 V516.82 M468.70 510.08 H473.10 M468.70 516.82 H473.10" stroke="#3e4e8c" stroke-width="1" fill="none"/>
<path d="M502.60 502.66 V513.90 M500.40 502.66 H504.80 M500.40 513.90 H504.80" stroke="#3e4e8c" stroke-width="1" fill="none"/>
<circle cx="315.90" cy="459.50" r="2.6" fill="#3e4e8c"/>
<circle cx="347.60" cy="508.96" r="2.6" fill="#3e4e8c"/>
<circle cx="378.70" cy="511.77" r="2.6" fill="#3e4e8c"/>
<circle cx="409.50" cy="513.45" r="2.6" fill="#3e4e8c"/>
<circle cx="440.20" cy="515.14" r="2.6" fill="#3e4e8c"/>
<circle cx="470.90" cy="513.45" r="2.6" fill="#3e4e8c"/>
<circle cx="502.60" cy="508.28" r="2.6" fill="#3e4e8c"/>
<path d="M315.90 459.50 L347.60 508.39 L378.70 511.77 L409.50 512.89 L440.20 511.99 L470.90 512.55 L502.60 504.01" fill="none" stroke="#7584bc" stroke-width="1.5" stroke-linejoin="round"/>
<path d="M347.60 501.65 V515.14 M345.40 501.65 H349.80 M345.40 515.14 H349.80" stroke="#7a86b0" stroke-width="1" fill="none"/>
<path d="M378.70 505.02 V518.51 M376.50 505.02 H380.90 M376.50 518.51 H380.90" stroke="#7a86b0" stroke-width="1" fill="none"/>
<path d="M409.50 506.15 V519.63 M407.30 506.15 H411.70 M407.30 519.63 H411.70" stroke="#7a86b0" stroke-width="1" fill="none"/>
<path d="M440.20 506.37 V517.61 M438.00 506.37 H442.40 M438.00 517.61 H442.40" stroke="#7a86b0" stroke-width="1" fill="none"/>
<path d="M470.90 509.18 V515.92 M468.70 509.18 H473.10 M468.70 515.92 H473.10" stroke="#7a86b0" stroke-width="1" fill="none"/>
<path d="M502.60 498.39 V509.63 M500.40 498.39 H504.80 M500.40 509.63 H504.80" stroke="#7a86b0" stroke-width="1" fill="none"/>
<circle cx="315.90" cy="459.50" r="3" fill="#98a2d0"/>
<circle cx="347.60" cy="508.39" r="3" fill="#98a2d0"/>
<circle cx="378.70" cy="511.77" r="3" fill="#98a2d0"/>
<circle cx="409.50" cy="512.89" r="3" fill="#98a2d0"/>
<circle cx="440.20" cy="511.99" r="3" fill="#98a2d0"/>
<circle cx="470.90" cy="512.55" r="3" fill="#98a2d0"/>
<circle cx="502.60" cy="504.01" r="3" fill="#98a2d0"/>
<path d="M315.90 459.50 L346.10 460.51 L377.60 462.87 L409.10 460.06 L440.50 460.06 L471.90 462.20 L503.20 460.06" fill="none" stroke="#3ca8dc" stroke-width="1.5" stroke-linejoin="round"/>
<path d="M377.60 458.38 V467.37 M375.40 458.38 H379.80 M375.40 467.37 H379.80" stroke="#3ca8dc" stroke-width="1" fill="none"/>
<path d="M471.90 456.58 V467.82 M469.70 456.58 H474.10 M469.70 467.82 H474.10" stroke="#3ca8dc" stroke-width="1" fill="none"/>
<circle cx="315.90" cy="459.50" r="2.6" fill="#3ca8dc"/>
<circle cx="346.10" cy="460.51" r="2.6" fill="#3ca8dc"/>
<circle cx="377.60" cy="462.87" r="2.6" fill="#3ca8dc"/>
<circle cx="409.10" cy="460.06" r="2.6" fill="#3ca8dc"/>
<circle cx="440.50" cy="460.06" r="2.6" fill="#3ca8dc"/>
<circle cx="471.90" cy="462.20" r="2.6" fill="#3ca8dc"/>
<circle cx="503.20" cy="460.06" r="2.6" fill="#3ca8dc"/>
<text x="436.60" y="477.00" font-size="8.9" fill="#48aee0" text-anchor="middle" font-weight="normal" stroke="#48aee0" stroke-width="0.08">Fonda only</text>
<text x="487.20" y="504.50" font-size="8.9" fill="#98a2d0" text-anchor="middle" font-weight="normal" stroke="#98a2d0" stroke-width="0.08">1hr</text>
<text x="421.20" y="527.80" font-size="8.9" fill="#34437c" text-anchor="middle" font-weight="normal" stroke="#34437c" stroke-width="0.08">6hr</text>
<text x="490.40" y="531.40" font-size="8.9" fill="#4a5868" text-anchor="middle" font-weight="normal" stroke="#4a5868" stroke-width="0.08">KKO</text>
<text x="495.40" y="555.40" font-size="8.9" fill="#222" text-anchor="middle" font-weight="normal" stroke="#222" stroke-width="0.08">N = 5</text>
<rect x="0" y="0" width="520" height="1.1" fill="#555"/><rect x="0" y="0" width="1.1" height="612" fill="#505050"/><rect x="518.9" y="0" width="1.1" height="612" fill="#505050"/><rect x="0" y="610.9" width="520" height="1.1" fill="#3a3a3a"/>
</svg>
</body></html>
